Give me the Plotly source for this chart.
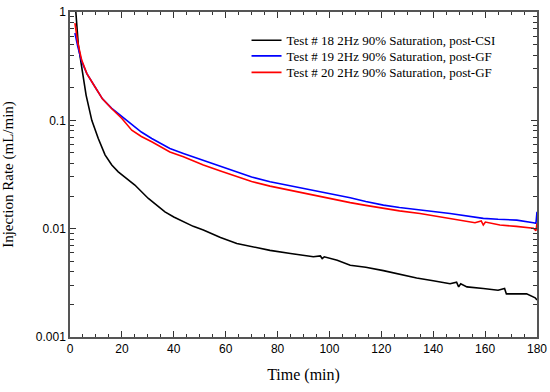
import plotly.graph_objects as go

# Test 18 (black)
t18 = [2.0, 2.2, 3.2, 4.8, 6.2, 8.4, 10.9, 13.5, 16.1, 18.6, 22.0, 25.0, 30.2, 33.5, 36.6, 40.0, 43.7,
       47.5, 51.4, 58.0, 64.3, 70.0, 77.1, 85.0, 93.8, 96.5, 97.2, 98.0, 103.0, 108.0, 114.0, 120.8,
       127.0, 133.6, 140.0, 146.5, 149.0, 149.8, 150.6, 153.0, 159.3, 165.0, 167.5, 168.2, 172.2, 176.0, 179.3, 180.0]
v18 = [1.2, 1.0, 0.50, 0.28, 0.171, 0.10, 0.068, 0.048, 0.0387, 0.0335, 0.029, 0.0253, 0.019, 0.0165, 0.0143,
       0.0128, 0.0116, 0.0105, 0.0097, 0.0083, 0.0073, 0.0068, 0.0063, 0.0059, 0.0055, 0.0056, 0.0053, 0.0055,
       0.0051, 0.0046, 0.0044, 0.0041, 0.0038, 0.0035, 0.0033, 0.0031, 0.0032, 0.0029, 0.0031, 0.0029,
       0.0028, 0.0027, 0.0028, 0.0025, 0.0025, 0.0025, 0.0023, 0.0022]

# Test 19 (blue)
t19 = [1.9, 3.0, 4.5, 6.5, 9.6, 12.5, 16.1, 20.0, 23.8, 27.5, 31.5, 35.0, 38.5, 43.7, 47.5, 51.4, 58.0,
       64.3, 70.0, 77.1, 85.0, 93.8, 100.0, 108.0, 114.0, 120.8, 127.0, 134.0, 140.0, 146.5, 153.0,
       159.3, 165.0, 172.2, 178.6, 179.6, 180.0]
v19 = [0.64, 0.48, 0.35, 0.27, 0.204, 0.158, 0.129, 0.108, 0.0905, 0.078, 0.068, 0.061, 0.055, 0.0495,
       0.046, 0.043, 0.038, 0.0336, 0.030, 0.0271, 0.0248, 0.0227, 0.021, 0.0193, 0.0178, 0.0165, 0.0157,
       0.0149, 0.0144, 0.0138, 0.0131, 0.01245, 0.0122, 0.0120, 0.01135, 0.0112, 0.0143]

# Test 20 (red)
t20 = [1.9, 3.0, 4.5, 6.5, 9.6, 12.5, 16.1, 20.0, 23.8, 27.5, 31.5, 35.0, 38.5, 43.7, 47.5, 51.4, 58.0,
       64.3, 70.0, 77.1, 85.0, 93.8, 100.0, 108.0, 114.0, 120.8, 127.0, 134.9, 156.1, 158.5, 159.3, 160.1,
       165.7, 172.0, 178.6, 179.6, 180.0]
v20 = [0.79, 0.52, 0.36, 0.27, 0.204, 0.158, 0.128, 0.104, 0.081, 0.071, 0.0635, 0.057, 0.051, 0.046,
       0.042, 0.0387, 0.034, 0.030, 0.0272, 0.0247, 0.0225, 0.0204, 0.019, 0.0174, 0.0164, 0.0154, 0.0146,
       0.0138, 0.01135, 0.0118, 0.0108, 0.0115, 0.0108, 0.0105, 0.0101, 0.0096, 0.0112]

names = ["Test # 18 2Hz 90% Saturation, post-CSI",
         "Test # 19 2Hz 90% Saturation, post-GF",
         "Test # 20 2Hz 90% Saturation, post-GF"]
colors = ["#000000", "#0000ff", "#ff0000"]

ytickvals = [0.001, 0.01, 0.1, 1]
yticktext = ["0.001", "0.01", "0.1", "1"]
xtickvals = [0, 20, 40, 60, 80, 100, 120, 140, 160, 180]
xminorvals = [5, 10, 15, 25, 30, 35, 45, 50, 55, 65, 70, 75, 85, 90, 95, 105, 110, 115,
              125, 130, 135, 145, 150, 155, 165, 170, 175]
yminorvals = [m * d for d in (0.001, 0.01, 0.1) for m in range(2, 10)]

legend_ids = ["legend", "legend2", "legend3"]
legend_y = [0.913, 0.865, 0.814]

fig = go.Figure()
for t, v, n, c, lg in zip([t18, t19, t20], [v18, v19, v20], names, colors, legend_ids):
    fig.add_trace(go.Scatter(x=t, y=v, mode="lines", name=n, legend=lg, showlegend=True,
                             line=dict(color=c, width=1.6)))

axis_common = dict(showgrid=False, zeroline=False, showline=True, linecolor="#555555",
                   linewidth=1.5, ticks="inside", mirror="allticks", tickcolor="#333333",
                   automargin=False,
                   tickfont=dict(family="Liberation Sans, Arial", size=12, color="#000000"))

fig.update_xaxes(range=[0, 180], tickmode="array", tickvals=xtickvals, ticklen=6, tickwidth=1.2,
                 minor=dict(ticks="inside", tickmode="array", tickvals=xminorvals, ticklen=3,
                            tickwidth=1.2, tickcolor="#333333", showgrid=False),
                 title=dict(text="Time (min)", font=dict(family="Liberation Serif, Times New Roman",
                                                         size=16, color="#000000"), standoff=14),
                 **axis_common)
fig.update_yaxes(type="log", range=[-3, 0], tickmode="array", tickvals=ytickvals, ticktext=yticktext,
                 ticklen=6, tickwidth=1.2,
                 minor=dict(ticks="inside", tickmode="array", tickvals=yminorvals, ticklen=4,
                            tickwidth=1.2, tickcolor="#333333", showgrid=False),
                 title=dict(text="Injection Rate (mL/min)", font=dict(family="Liberation Serif, Times New Roman",
                                                                      size=15, color="#000000"), standoff=21),
                 **axis_common)

legend_font = dict(family="Liberation Serif, Times New Roman", size=13, color="#000000")
leg_layout = {}
for lg, ly in zip(legend_ids, legend_y):
    leg_layout[lg] = dict(x=0.378, y=ly, xanchor="left", yanchor="middle", bgcolor="rgba(0,0,0,0)",
                          font=legend_font, itemwidth=30, visible=True)

fig.update_layout(
    width=550, height=392,
    showlegend=True,
    margin=dict(l=70, r=13, t=12, b=55),
    plot_bgcolor="white", paper_bgcolor="white",
    **leg_layout,
)

fig.write_html("out.html", config={"displayModeBar": False},
               post_script="document.body.style.margin='0';")
